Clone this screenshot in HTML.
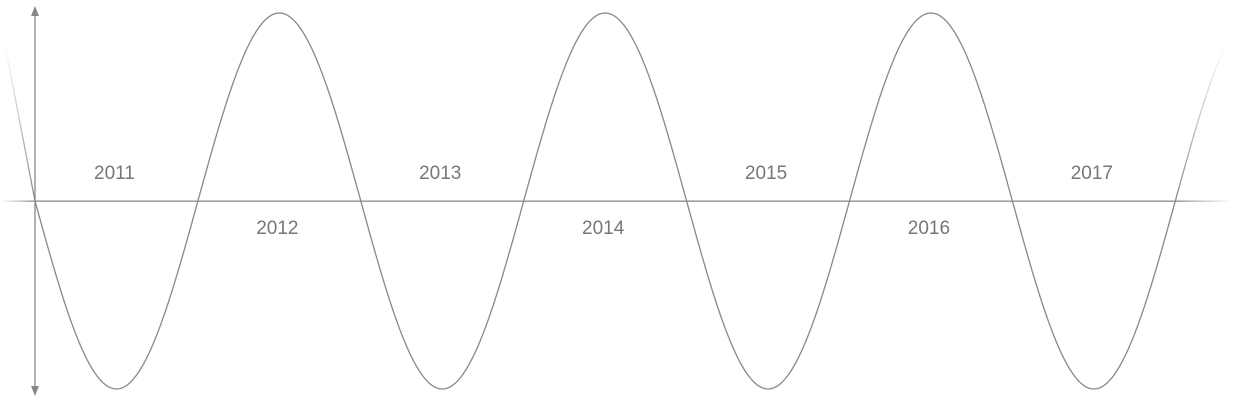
<!DOCTYPE html>
<html><head><meta charset="utf-8"><style>
html,body{margin:0;padding:0;background:#fff;width:1233px;height:408px;overflow:hidden}
text{font-family:"Liberation Sans",sans-serif;font-size:19px;fill:#777}
</style></head><body>
<svg id="chart" width="1233" height="408" xmlns="http://www.w3.org/2000/svg">
<defs>
<linearGradient id="fadeL" x1="0" x2="1" y1="0" y2="0"><stop offset="0" stop-color="#888" stop-opacity="0"/><stop offset="1" stop-color="#888"/></linearGradient>
<linearGradient id="fadeR" x1="0" x2="1" y1="0" y2="0"><stop offset="0" stop-color="#888"/><stop offset="1" stop-color="#888" stop-opacity="0"/></linearGradient>
<linearGradient id="fadeLL" gradientUnits="userSpaceOnUse" x1="5" y1="45" x2="35" y2="201"><stop offset="0" stop-color="#888" stop-opacity="0"/><stop offset="1" stop-color="#888"/></linearGradient>
<linearGradient id="fadeRR" gradientUnits="userSpaceOnUse" x1="1178" y1="201" x2="1228" y2="45"><stop offset="0" stop-color="#888"/><stop offset="1" stop-color="#888" stop-opacity="0"/></linearGradient>
</defs>
<rect x="0" y="200.5" width="35" height="1.3" fill="url(#fadeL)"/>
<rect x="35" y="200.5" width="1140" height="1.3" fill="#888"/>
<rect x="1175" y="200.5" width="58" height="1.3" fill="url(#fadeR)"/>
<line x1="35" y1="12" x2="35" y2="390" stroke="#888" stroke-width="1.3"/>
<polygon points="35,6 31,16 39,16" fill="#888"/>
<polygon points="35,396 31,386 39,386" fill="#888"/>
<line x1="5" y1="45" x2="35" y2="201" stroke="url(#fadeLL)" stroke-width="1.3"/>
<g id="g"></g>
</svg>
<script>
const years = ["2011","2012","2013","2014","2015","2016","2017"];
const halfCycles = 7;
const amplitude = 1;
const x0 = 35, period = 325.8, yMid = 201, ampPx = 188;
const X = t => x0 + t * period / 2;
const Y = v => yMid + v * ampPx;
const g = document.getElementById('g');
const NS = 'http://www.w3.org/2000/svg';
let d = '';
for (let i = 0; i <= 700; i++) {
  const t = i / 100;
  d += (i ? 'L' : 'M') + X(t).toFixed(2) + ',' + Y(amplitude * Math.sin(Math.PI * t)).toFixed(2);
}
const p = document.createElementNS(NS, 'path');
p.setAttribute('d', d);
p.setAttribute('fill', 'none');
p.setAttribute('stroke', '#888');
p.setAttribute('stroke-width', '1.3');


g.appendChild(p);
let d2 = '';
for (let i = 0; i <= 60; i++) {
  const t = 7 + i / 200;
  d2 += (i ? 'L' : 'M') + X(t).toFixed(2) + ',' + Y(amplitude * Math.sin(Math.PI * t)).toFixed(2);
}
const p2 = document.createElementNS(NS, 'path');
p2.setAttribute('d', d2);
p2.setAttribute('fill', 'none');
p2.setAttribute('stroke', 'url(#fadeRR)');
p2.setAttribute('stroke-width', '1.3');


g.appendChild(p2);
years.forEach((yr, i) => {
  const tx = document.createElementNS(NS, 'text');
  tx.setAttribute('x', X(i + 0.5) - 2);
  tx.setAttribute('y', i % 2 === 0 ? 179 : 234);
  tx.setAttribute('text-anchor', 'middle');
  tx.textContent = yr;
  
  
  g.appendChild(tx);
});
</script>
</body></html>
